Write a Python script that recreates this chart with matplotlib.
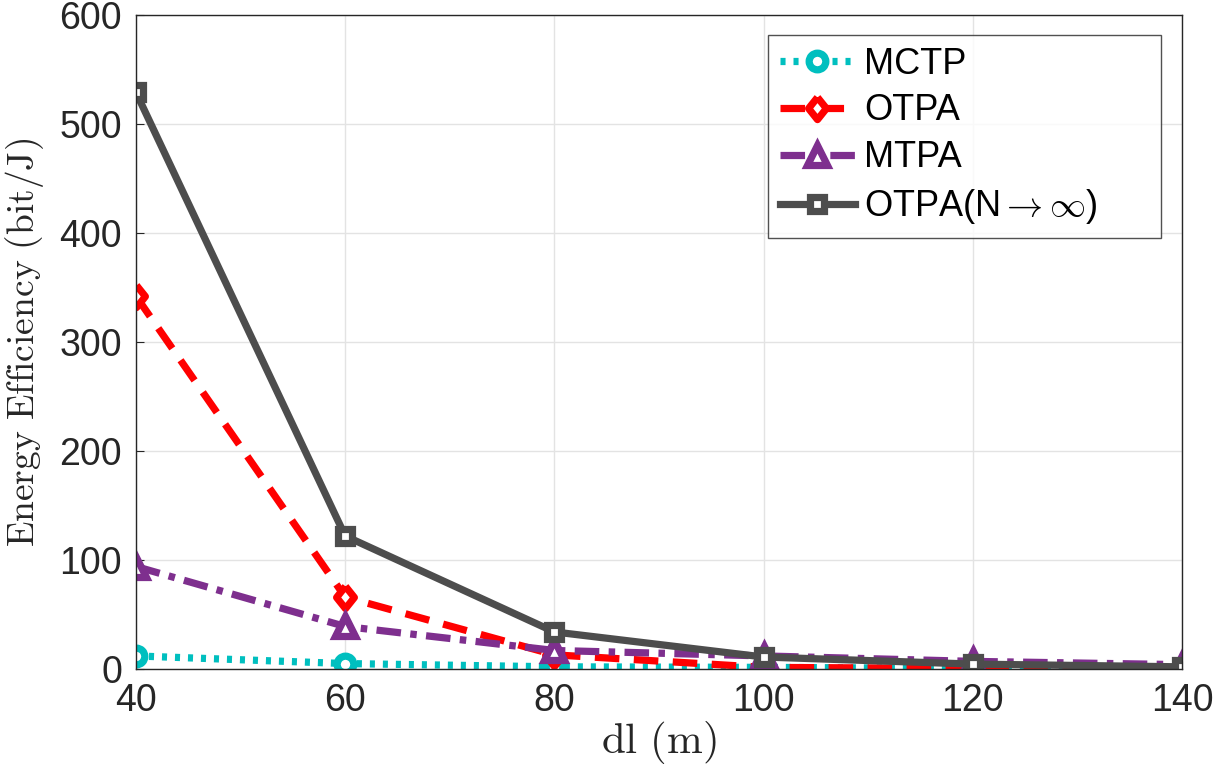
import matplotlib
matplotlib.use("Agg")
import matplotlib.pyplot as plt

dl = [40, 60, 80, 100, 120, 140]
mctp = [12, 5, 2, 1.5, 0.5, 0.3]
otpa = [342, 66, 13, 1.5, 0.5, 0.3]
mtpa = [94, 39, 17, 12, 7, 4]
otpa_inf = [529, 122, 34, 11, 4.5, 2]
yticks = [0, 100, 200, 300, 400, 500, 600]
xticks = [40, 60, 80, 100, 120, 140]

plt.rcParams['mathtext.fontset'] = 'cm'
plt.rcParams['font.family'] = ['Liberation Sans', 'DejaVu Sans']

W, H = 1217, 780
fig = plt.figure(figsize=(W / 100, H / 100), dpi=100)
ax = fig.add_axes([136 / W, 1 - 669 / H, (1182 - 136) / W, (669 - 15) / H])

diamond = [(0, 1), (0.8, 0), (0, -1), (-0.8, 0), (0, 1)]
lw = 5.2
mew = 5.2
ax.plot(dl, mctp, linestyle=(0, (0.7, 1.1)), color='#00BFBF', lw=lw, marker='o', ms=12,
        mfc='white', mew=mew, label='MCTP')
ax.plot(dl, otpa, linestyle=(0, (3.4, 2.0)), color='#FF0000', lw=lw, marker=diamond, ms=16,
        mfc='white', mew=mew, label='OTPA')
ax.plot(dl, mtpa, linestyle=(0, (3.4, 1.3, 0.9, 1.3)), color='#7E2F8E', lw=lw, marker='^', ms=14,
        mfc='white', mew=mew, label='MTPA')
ax.plot(dl, otpa_inf, linestyle='-', color='#4D4D4D', lw=lw, marker='s', ms=9.5,
        mfc='white', mew=mew, label='OTPA(N$\\rightarrow\\infty$)')

ax.set_xlim(40, 140)
ax.set_ylim(0, 600)
ax.set_xticks(xticks)
ax.set_yticks(yticks)
ax.tick_params(labelsize=27, direction='in', length=6, colors='#262626', pad=10)
ax.grid(True, color='#E3E3E3', lw=1)
for s in ax.spines.values():
    s.set_color('#262626')
    s.set_linewidth(1)

ax.set_xlabel(r'$\mathrm{dl\ (m)}$', fontsize=31, color='#262626', labelpad=0)
ax.set_ylabel(r'$\mathrm{Energy\ Efficiency\ (bit/J)}$', fontsize=27, color='#262626', labelpad=10)

aw = 1182 - 136
ah = 669 - 15
x0 = (768 - 136) / aw
x1 = (1161 - 136) / aw
y1 = (669 - 35) / ah
y0 = (669 - 233) / ah
leg = ax.legend(loc='upper left', fontsize=26, mode='expand',
                bbox_to_anchor=(x0, y0, x1 - x0, y1 - y0), bbox_transform=ax.transAxes,
                frameon=True, fancybox=False, edgecolor='#262626', handlelength=2.1,
                borderpad=0.32, labelspacing=0.33, handletextpad=0.25, borderaxespad=0)
leg.get_frame().set_linewidth(1)

fig.savefig('out.png', dpi=100)
